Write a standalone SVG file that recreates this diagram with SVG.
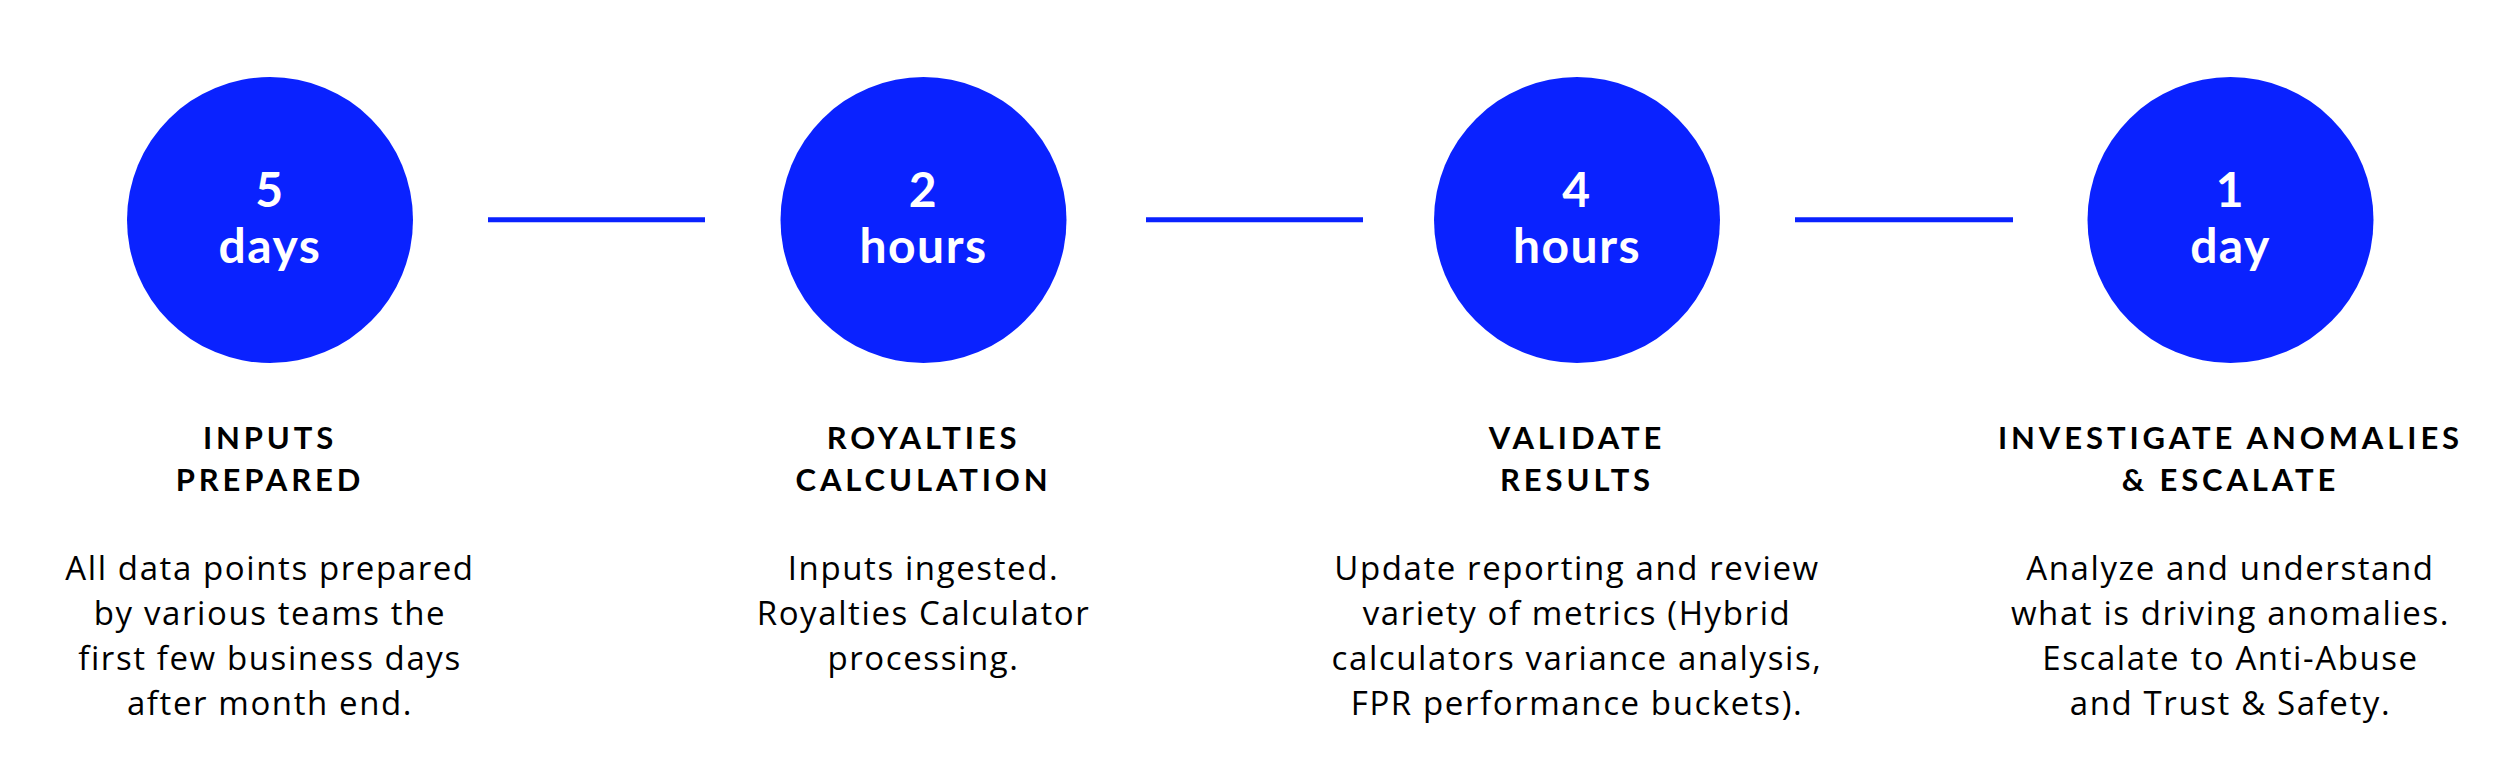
<svg xmlns="http://www.w3.org/2000/svg" width="2500" height="782" viewBox="0 0 2500 782">
<style>
.bg{fill:#ffffff}
.dot{fill:#0a22ff}
.conn{stroke:#0a22ff;stroke-width:5;fill:none}
.num{font-family:Lato,"Open Sans","Liberation Sans",sans-serif;font-weight:700;font-size:48px;letter-spacing:1.5px;fill:#ffffff;text-anchor:middle}
.title{font-family:Lato,"Open Sans","Liberation Sans",sans-serif;font-weight:700;font-size:31px;letter-spacing:3.9px;fill:#000000;text-anchor:middle}
.body{font-family:"Open Sans",Lato,"Liberation Sans",sans-serif;font-weight:400;font-size:33px;letter-spacing:1.6px;fill:#000000;text-anchor:middle}
</style>
<rect class="bg" x="0" y="0" width="2500" height="782"/>
<g id="connectors">
<line class="conn" x1="488" y1="219.8" x2="705" y2="219.8"/>
<line class="conn" x1="1146" y1="219.8" x2="1363" y2="219.8"/>
<line class="conn" x1="1795" y1="219.8" x2="2013" y2="219.8"/>
</g>
<g id="step1">
<circle class="dot" cx="270" cy="220" r="143"/>
<text class="num" x="270" y="207">5</text>
<text class="num" x="270" y="263">days</text>
<text class="title" x="270" y="449">INPUTS</text>
<text class="title" x="270" y="491">PREPARED</text>
<text class="body" x="270" y="580">All data points prepared</text>
<text class="body" x="270" y="625">by various teams the</text>
<text class="body" x="270" y="670">first few business days</text>
<text class="body" x="270" y="715">after month end.</text>
</g>
<g id="step2">
<circle class="dot" cx="923.5" cy="220" r="143"/>
<text class="num" x="923.5" y="207">2</text>
<text class="num" x="923.5" y="263">hours</text>
<text class="title" x="923.5" y="449">ROYALTIES</text>
<text class="title" x="923.5" y="491">CALCULATION</text>
<text class="body" x="923.5" y="580">Inputs ingested.</text>
<text class="body" x="923.5" y="625">Royalties Calculator</text>
<text class="body" x="923.5" y="670">processing.</text>
</g>
<g id="step3">
<circle class="dot" cx="1577" cy="220" r="143"/>
<text class="num" x="1577" y="207">4</text>
<text class="num" x="1577" y="263">hours</text>
<text class="title" x="1577" y="449">VALIDATE</text>
<text class="title" x="1577" y="491">RESULTS</text>
<text class="body" x="1577" y="580">Update reporting and review</text>
<text class="body" x="1577" y="625">variety of metrics (Hybrid</text>
<text class="body" x="1577" y="670">calculators variance analysis,</text>
<text class="body" x="1577" y="715">FPR performance buckets).</text>
</g>
<g id="step4">
<circle class="dot" cx="2230.5" cy="220" r="143"/>
<text class="num" x="2230.5" y="207">1</text>
<text class="num" x="2230.5" y="263">day</text>
<text class="title" x="2230.5" y="449">INVESTIGATE ANOMALIES</text>
<text class="title" x="2230.5" y="491">&amp; ESCALATE</text>
<text class="body" x="2230.5" y="580">Analyze and understand</text>
<text class="body" x="2230.5" y="625">what is driving anomalies.</text>
<text class="body" x="2230.5" y="670">Escalate to Anti-Abuse</text>
<text class="body" x="2230.5" y="715">and Trust &amp; Safety.</text>
</g>
</svg>
